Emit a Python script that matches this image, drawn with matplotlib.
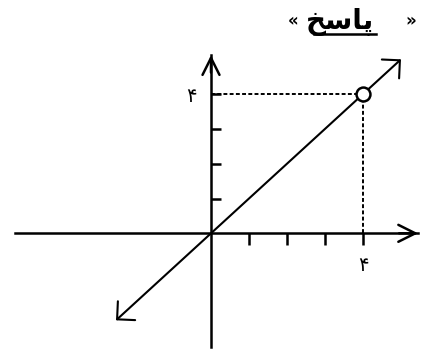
import matplotlib as mpl
mpl.use('Agg')

import matplotlib.pyplot as plt
from matplotlib.lines import Line2D

# values
x_ticks = [1, 2, 3, 4]
y_ticks = [1, 2, 3, 4]
tick_labels = ['', '', '', '۴']
line_x = [-2.5, 5.0]          # y = x
point = (4, 4)
x_axis = (-5.16, 5.45)
y_axis = (-3.27, 5.12)

# title word "پاسخ" in presentation forms (matplotlib does no arabic shaping)
title_word = '\uFEA6\uFEB3\uFE8E\uFB58'

fig = plt.figure(figsize=(4.22, 3.5), dpi=100)
ax = fig.add_axes([0, 0, 1, 1])
ax.set_xlim(-5.553, 5.553)
ax.set_ylim(-3.353, 6.704)
ax.patch.set_visible(False)

# axes through the origin
for side in ['top', 'right']:
    ax.spines[side].set_visible(False)
ax.spines['left'].set_position(('data', 0))
ax.spines['bottom'].set_position(('data', 0))
ax.spines['left'].set_bounds(*y_axis)
ax.spines['bottom'].set_bounds(*x_axis)
for side in ['left', 'bottom']:
    ax.spines[side].set_linewidth(1.8)

ax.set_xticks(x_ticks, tick_labels)
ax.set_yticks(y_ticks, tick_labels)
ax.tick_params(axis='x', direction='out', length=8.6, width=1.8, pad=8, labelsize=14)
ax.tick_params(axis='y', direction='in', length=7.2, width=1.8, pad=10, labelsize=14)

# arrow heads on the axes
axis_head = '->,head_length=1.22,head_width=0.61'
ax.annotate('', xy=(x_axis[1], 0), xytext=(x_axis[1] - 0.5, 0),
            arrowprops=dict(arrowstyle=axis_head, lw=1.8, color='black',
                            shrinkA=0, shrinkB=0, mutation_scale=10))
ax.annotate('', xy=(0, y_axis[1]), xytext=(0, y_axis[1] - 0.5),
            arrowprops=dict(arrowstyle=axis_head, lw=1.8, color='black',
                            shrinkA=0, shrinkB=0, mutation_scale=10))

# the line y = x, arrows on both ends
ax.annotate('', xy=(line_x[1], line_x[1]), xytext=(line_x[0], line_x[0]),
            arrowprops=dict(arrowstyle='<->,head_length=0.92,head_width=0.92',
                            lw=1.5, color='black', shrinkA=0, shrinkB=0,
                            mutation_scale=10))

# dotted guides to the point
ax.plot([0, point[0]], [point[1], point[1]], color='black', lw=1.4,
        linestyle=(0, (2, 1.2)))
ax.plot([point[0], point[0]], [0, point[1]], color='black', lw=1.4,
        linestyle=(0, (2, 1.2)))
ax.plot([point[0]], [point[1]], marker='o', markersize=10, markerfacecolor='white',
        markeredgecolor='black', markeredgewidth=1.8, zorder=5)

# title « پاسخ »
fig.text(340 / 422, 1 - 29 / 350, title_word, ha='center', va='baseline',
         fontsize=20, fontweight='bold', family='DejaVu Sans')
fig.text(293 / 422, 1 - 21 / 350, '«', ha='center', va='center', fontsize=12,
         fontweight='bold')
fig.text(411 / 422, 1 - 21 / 350, '»', ha='center', va='center', fontsize=12,
         fontweight='bold')
fig.add_artist(Line2D([314 / 422, 376 / 422], [1 - 34 / 350, 1 - 34 / 350],
                      color='black', lw=1.8))

fig.savefig('out.png', dpi=100)
